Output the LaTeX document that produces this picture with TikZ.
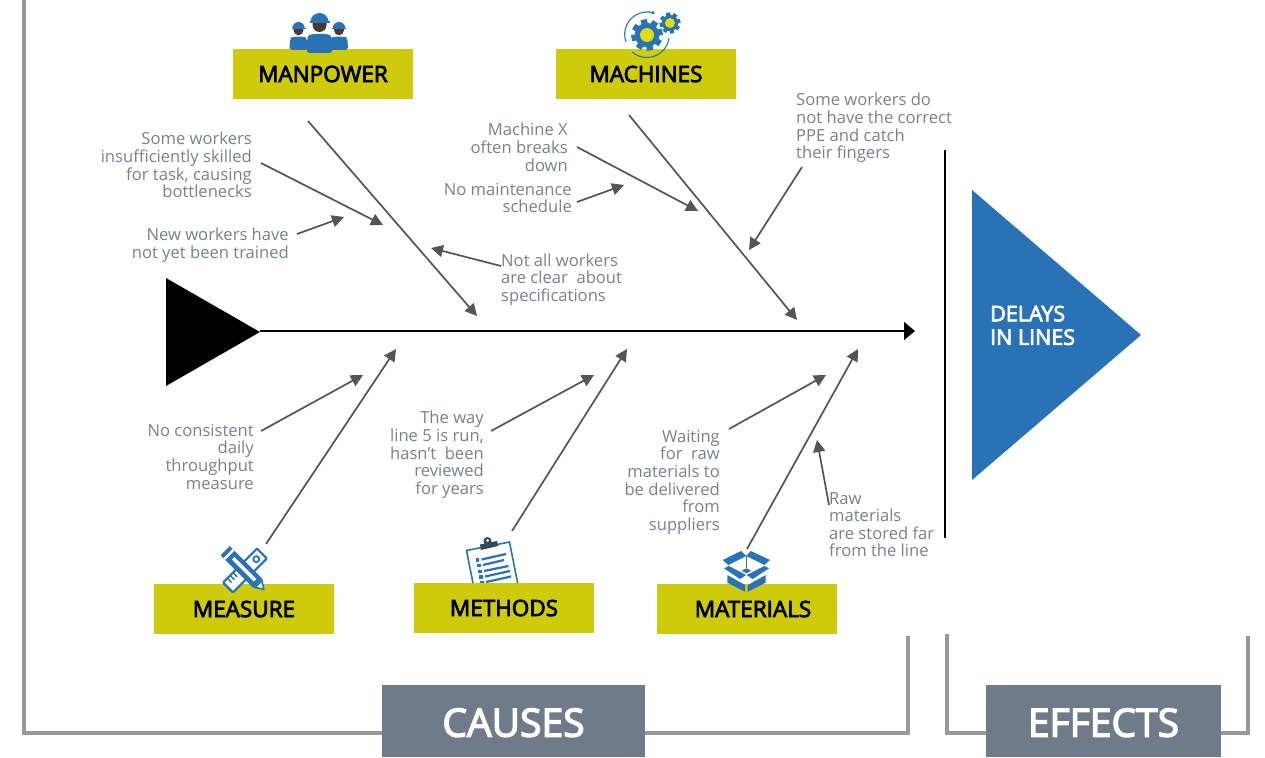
\documentclass[tikz,border=0pt]{standalone}
\usepackage{fontspec}
\setmainfont{Open Sans}
\newfontfamily\semibold[FakeBold=3.5]{Open Sans}
\definecolor{olivebox}{HTML}{CDCB0B}
\definecolor{iconblue}{HTML}{2872B5}
\definecolor{bluetri}{HTML}{2872B5}
\definecolor{slatebox}{HTML}{6F7B88}
\definecolor{railgray}{HTML}{999999}
\definecolor{notegray}{HTML}{77828D}
\definecolor{twiggray}{HTML}{555555}
\definecolor{skin}{HTML}{4A3A36}
\definecolor{ringteal}{HTML}{2E7A9E}
\definecolor{cliptop}{HTML}{2D4A5E}
\definecolor{gearyellow}{HTML}{DFDD10}
\usetikzlibrary{arrows.meta}
\tikzset{
  catbox/.style={fill=olivebox,draw=none,minimum width=180pt,minimum height=50pt,inner sep=0pt,font=\fontsize{22.5}{24}\semibold,text=black},
  sumbox/.style={fill=slatebox,draw=none,minimum height=72pt,inner sep=0pt,font=\fontsize{39}{42}\semibold,text=white},
  note/.style={text=notegray,inner sep=0pt,font=\fontsize{16.6}{17.6}\selectfont},
  noter/.style={note,align=right,anchor=north east},
  notel/.style={note,align=left,anchor=north west},
  bone/.style={draw=twiggray,line width=1.7pt,-{Triangle[length=12pt,width=12pt]}},
  spine/.style={draw=black,line width=2pt,-{Triangle[length=11pt,width=18pt]}},
  rail/.style={draw=railgray,line width=4.5pt,line join=miter},
}
\newcommand{\cogwheel}[5]{% x y outer r inner r teeth
  \fill[iconblue] (#1,#2) circle[radius=#3*0.78];
  \foreach \k in {1,...,#5}{
    \fill[iconblue,shift={(#1,#2)},rotate=\k*360/#5+12] (#3*0.7,-#3*0.2) rectangle (#3,#3*0.2);
  }
  \fill[gearyellow] (#1,#2) circle[radius=#4];
}
\begin{document}
\begin{tikzpicture}[x=1pt,y=-1pt]
\useasboundingbox (0,0) rectangle (1265,757);
\fill[white] (0,0) rectangle (1265,757);

% rails
\coordinate (railA) at (24,0);
\coordinate (railB) at (24,733);
\coordinate (railC) at (908,733);
\coordinate (railD) at (908,636);
\coordinate (railE) at (947,634);
\coordinate (railF) at (947,733);
\coordinate (railG) at (1248,733);
\coordinate (railH) at (1248,636);
\draw[rail] (railA) -- (railB) -- (railC) -- (railD);
\draw[rail] (railE) -- (railF) -- (railG) -- (railH);
\node[sumbox,minimum width=263pt,text depth=0pt] (causes) at (513.5,721) {\raisebox{-3pt}{CAUSES}};
\node[sumbox,minimum width=235pt,text depth=0pt] (effects) at (1103.5,721) {\raisebox{-3pt}{EFFECTS}};

% clipboard icon (behind its box)
\begin{scope}
  \draw[iconblue,fill=white,line width=1.6pt] (466.5,550.5) -- (509.5,542) -- (519,590) -- (476,598) -- cycle;
  \fill[cliptop] (480,544.5) -- (497,541) -- (498,546) -- (481,550) -- cycle;
  \fill[cliptop] (487.5,541) circle[radius=4];
  \fill[white] (487.5,540.5) circle[radius=1.5];
  \foreach \i/\xa/\ya/\xb/\yb in {0/481.5/559.5/506/554,1/483/565/504/560,2/484/571/508.5/566,3/485/576.5/510/571,4/486/582/511/576.5}{
    \draw[iconblue,line width=2.2pt] (\xa,\ya) -- (\xb,\yb);
    \fill[iconblue] (\xa-6,\ya-1.5) rectangle (\xa-2.5,\ya+2);
  }
\end{scope}

% main frame
\coordinate (tailtip) at (260,331);
\coordinate (spineend) at (915,331);
\coordinate (divtop) at (945,150);
\coordinate (divbot) at (945,538);
\fill[black] (166,278) -- (166,386) -- (260,332) -- cycle;
\draw[spine] (tailtip) -- (spineend);
\draw[black,line width=1.6pt] (divtop) -- (divbot);
\fill[bluetri] (972,190) -- (972,480) -- (1141,335) -- cycle;
\node[anchor=north west,align=left,text=white,inner sep=0pt,font=\fontsize{21.5}{23.5}\semibold] (effectlabel) at (990,305.5) {DELAYS\\IN LINES};

% category boxes
\node[catbox] (manpower) at (323,74) {\raisebox{-3pt}{MANPOWER}};
\node[catbox] (machines) at (646,74) {\raisebox{-3pt}{MACHINES}};
\node[catbox] (measure) at (244,609) {\raisebox{-3pt}{MEASURE}};
\node[catbox] (methods) at (504,608) {\raisebox{-3pt}{METHODS}};
\node[catbox] (materials) at (747,609) {\hspace*{12pt}\raisebox{-3pt}{MATERIALS}};

% bones
\coordinate (b1s) at (308,121); \coordinate (b1e) at (477,316);
\coordinate (b2s) at (629,115); \coordinate (b2e) at (797,320);
\coordinate (b3s) at (266,544); \coordinate (b3e) at (396,349);
\coordinate (b4s) at (512,531); \coordinate (b4e) at (627,349);
\coordinate (b5s) at (747,549); \coordinate (b5e) at (858,349);
\foreach \n in {1,...,5}{\draw[bone] (b\n s) -- (b\n e);}

% twigs
\coordinate (t1s) at (261,163); \coordinate (t1e) at (383,225);
\coordinate (t2s) at (297,234); \coordinate (t2e) at (344,217);
\coordinate (t3s) at (501,266); \coordinate (t3e) at (431,248);
\coordinate (t4s) at (577,147); \coordinate (t4e) at (698,211);
\coordinate (t5s) at (577,202); \coordinate (t5e) at (624,185);
\coordinate (t6s) at (802,167); \coordinate (t6e) at (749,250);
\coordinate (t7s) at (261,431); \coordinate (t7e) at (363,375);
\coordinate (t8s) at (491,431); \coordinate (t8e) at (594,375);
\coordinate (t9s) at (729,429); \coordinate (t9e) at (826,375);
\coordinate (t10s) at (829,505); \coordinate (t10e) at (817,440);
\foreach \n in {1,...,10}{\draw[bone] (t\n s) -- (t\n e);}

% notes
\node[noter] (n1) at (252,132) {Some workers\\insufficiently skilled\\for task, causing\\bottlenecks};
\node[noter] (n2) at (289,228) {New workers have\\not yet been trained};
\node[notel] (n3) at (501,253.5) {Not all workers\\are clear\ \ about\\specifications};
\node[noter] (n4) at (568,123) {Machine X\\often breaks\\down};
\node[noter] (n5) at (572,183) {No maintenance\\schedule};
\node[notel] (n6) at (796,93) {Some workers do\\not have the correct\\PPE and catch\\their fingers};
\node[noter] (n7) at (254,424) {No consistent\\daily\\throughput\\measure};
\node[noter] (n8) at (484,411) {The way\\line 5 is run,\\hasn’t\ \ been\\reviewed\\for years};
\node[noter] (n9) at (720,430) {Waiting\\for\ \ raw\\materials to\\be delivered\\from\\suppliers};
\node[notel] (n10) at (829,492) {Raw\\materials\\are stored far\\from the line};

% manpower icon
\foreach \cx/\cy/\s in {298.5/36/0.7,339/36/0.7,319.5/33/1}{
  \begin{scope}[shift={(\cx,\cy)},scale=\s]
    \fill[iconblue,rounded corners=3pt] (-12,3) -- (-8,1) -- (8,1) -- (12,3) -- (13,20) -- (-13,20) -- cycle;
    \fill[skin] (-7,-11) -- (7,-11) -- (7,-8) arc[start angle=0,end angle=180,radius=7] -- cycle;
    \fill[iconblue] (-9,-11) arc[start angle=180,end angle=360,radius=9] -- cycle;
    \fill[iconblue] (-10,-12) rectangle (10,-9.8);
  \end{scope}
}

% machines icon
\draw[ringteal,line width=1.1pt,-{Triangle[length=3pt,width=4pt]}] (626,42) arc[start angle=160,end angle=291,radius=22.3];
\draw[ringteal,line width=1.1pt] (632,52) arc[start angle=131,end angle=8,radius=22.5];
\cogwheel{647}{35}{15.7}{7}{8}
\cogwheel{670}{23}{10.5}{5}{8}

% measure icon
\begin{scope}[shift={(245,570.5)},rotate=45]
  \draw[iconblue,fill=white,line width=2.2pt,rounded corners=0.8pt] (-24,-7) rectangle (24,7);
  \draw[iconblue,line width=1.8pt] (16,0) circle[radius=3];
  \foreach \t in {-18,-14,-10}{\draw[iconblue,line width=1.4pt] (\t,-7) -- (\t,-1);}
\end{scope}
\begin{scope}[shift={(245,570.5)},rotate=-45]
  \fill[iconblue] (-28,-6.5) rectangle (18,6.5);
  \fill[white] (-24,-6.5) rectangle (-21.5,6.5);
  \fill[white] (-17,-2) rectangle (14,1.5);
  \fill[iconblue] (18,-6.5) -- (28,0) -- (18,6.5) -- cycle;
  \fill[white] (20,-3) -- (25,0) -- (20,3) -- cycle;
\end{scope}

% materials icon
\fill[iconblue] (722.7,560) -- (741,551) -- (746.3,556) -- (728.3,565) -- cycle;
\fill[iconblue] (750.7,551) -- (770,560) -- (764.3,565) -- (746.3,556) -- cycle;
\fill[iconblue] (724,568.3) -- (729,566) -- (746,575) -- (740,579) -- cycle;
\fill[iconblue] (769,568.3) -- (764.3,566) -- (746.7,575) -- (752.7,579) -- cycle;
\fill[iconblue] (727.3,575) -- (745,585) -- (745,591.7) -- (727.3,582.7) -- cycle;
\fill[iconblue] (747.7,585) -- (765.7,575) -- (765.7,582.7) -- (747.7,591.7) -- cycle;
\fill[iconblue] (741.7,570.7) -- (746.7,568.3) -- (751,570.7) -- (746.7,573.3) -- cycle;
\draw[iconblue,line width=0.7pt] (746.5,556) -- (746.5,568);
\end{tikzpicture}
\end{document}
